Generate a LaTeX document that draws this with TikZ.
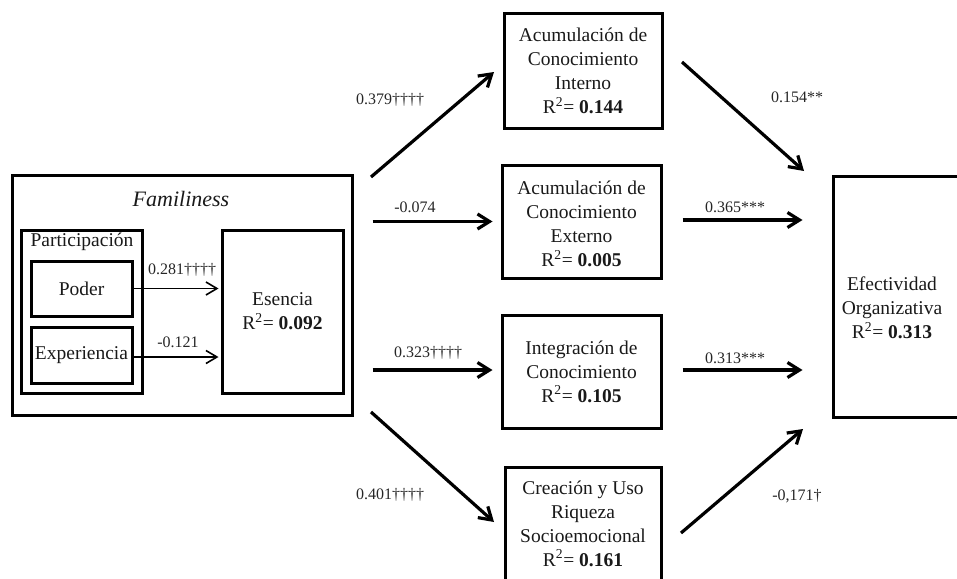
\documentclass[tikz,border=0pt]{standalone}
\usepackage{fontspec}
\setmainfont{Liberation Serif}
\usetikzlibrary{arrows.meta}
\begin{document}
\begin{tikzpicture}[x=1pt,y=-1pt,
  box/.style={draw,line width=3pt,inner sep=0pt,align=center,rectangle},
  btxt/.style={align=center,inner sep=0pt,text=black!90,font=\fontsize{19.5}{24}\selectfont},
  elab/.style={inner sep=0pt,text=black!85,font=\fontsize{16}{19}\selectfont},
  arr/.style={line width=3.2pt,-{Straight Barb[length=12pt,width=15pt,line width=3.2pt]}},
  tarr/.style={line width=1.6pt,-{Straight Barb[length=11pt,width=13pt,line width=1.6pt]}}
]
\useasboundingbox (0,0) rectangle (957,578);

% Familiness group
\node[box,minimum width=340,minimum height=240] (fam) at (182,295) {};
\node[btxt,font=\fontsize{22}{26}\selectfont\itshape] (famt) at (181,199) {Familiness};
\node[box,minimum width=121,minimum height=163] (part) at (81.5,311.5) {};
\node[btxt] (partt) at (82,242) {Participación};
\node[box,minimum width=101,minimum height=55] (pod) at (81.5,288.5) {};
\node[btxt] (podt) at (81.5,288.5) {Poder};
\node[box,minimum width=101,minimum height=56] (exp) at (81.5,355) {};
\node[btxt] (expt) at (81.5,355) {Experiencia};
\node[box,minimum width=121,minimum height=163] (ese) at (282.5,311.5) {};
\node[btxt] (eset) at (282.5,311.5) {Esencia\\R\textsuperscript{2}= \textbf{0.092}};

% middle boxes
\node[box,minimum width=158,minimum height=114] (int) at (583,71) {};
\node[btxt] (intt) at (583,71) {Acumulación de\\Conocimiento\\Interno\\R\textsuperscript{2}= \textbf{0.144}};
\node[box,minimum width=159,minimum height=113] (ext) at (581.5,221.5) {};
\node[btxt] (extt) at (581.5,224) {Acumulación de\\Conocimiento\\Externo\\R\textsuperscript{2}= \textbf{0.005}};
\node[box,minimum width=159,minimum height=113] (integ) at (581.5,371.5) {};
\node[btxt] (integt) at (581.5,371.5) {Integración de\\Conocimiento\\R\textsuperscript{2}= \textbf{0.105}};
\node[box,minimum width=156,minimum height=117] (cre) at (583,525.5) {};
\node[btxt] (cret) at (583,523.5) {Creación y Uso\\Riqueza\\Socioemocional\\R\textsuperscript{2}= \textbf{0.161}};

% right box
\node[box,minimum width=150,minimum height=241] (efe) at (908,296.5) {};
\node[btxt] (efet) at (892,308) {Efectividad\\Organizativa\\R\textsuperscript{2}= \textbf{0.313}};

% inner arrows
\draw[tarr] (pod.east) -- ([xshift=-2pt]pod.east -| ese.west);
\draw[tarr] ([yshift=-2pt]exp.east) -- ([xshift=-2pt,yshift=-2pt]exp.east -| ese.west);
\node[elab] (l281) at (182,270) {0.281††††};
\node[elab] (l121) at (178,342) {-0.121};

% left arrows
\coordinate (a1s) at (371,177);
\coordinate (a1e) at (494,72);
\coordinate (a4s) at (371,412);
\coordinate (a4e) at (494,522);
\draw[arr] (a1s) -- (a1e);
\draw[arr] ([xshift=19pt]fam.east |- ext.west) -- ([xshift=-8pt]ext.west);
\draw[arr] ([xshift=19pt,yshift=1.5pt]fam.east |- integ.west) -- ([xshift=-8pt,yshift=1.5pt]integ.west);
\draw[arr] (a4s) -- (a4e);
\node[elab] (l379) at (390,100) {0.379††††};
\node[elab] (l074) at (415,207) {-0.074};
\node[elab] (l323) at (428,353) {0.323††††};
\node[elab] (l401) at (390,495) {0.401††††};

% right arrows
\coordinate (b1s) at (682,62);
\coordinate (b1e) at (804,171);
\coordinate (b4s) at (681,533);
\coordinate (b4e) at (803,429);
\draw[arr] (b1s) -- (b1e);
\draw[arr] ([xshift=20pt,yshift=1.5pt]ext.east) -- ([xshift=-29pt,yshift=1.5pt]ext.east -| efe.west);
\draw[arr] ([xshift=20pt,yshift=1.5pt]integ.east) -- ([xshift=-29pt,yshift=1.5pt]integ.east -| efe.west);
\draw[arr] (b4s) -- (b4e);
\node[elab] (l154) at (797,97) {0.154**};
\node[elab] (l365) at (735,207) {0.365***};
\node[elab] (l313) at (735,358) {0.313***};
\node[elab] (l171) at (797,496) {-0,171†};
\end{tikzpicture}
\end{document}
